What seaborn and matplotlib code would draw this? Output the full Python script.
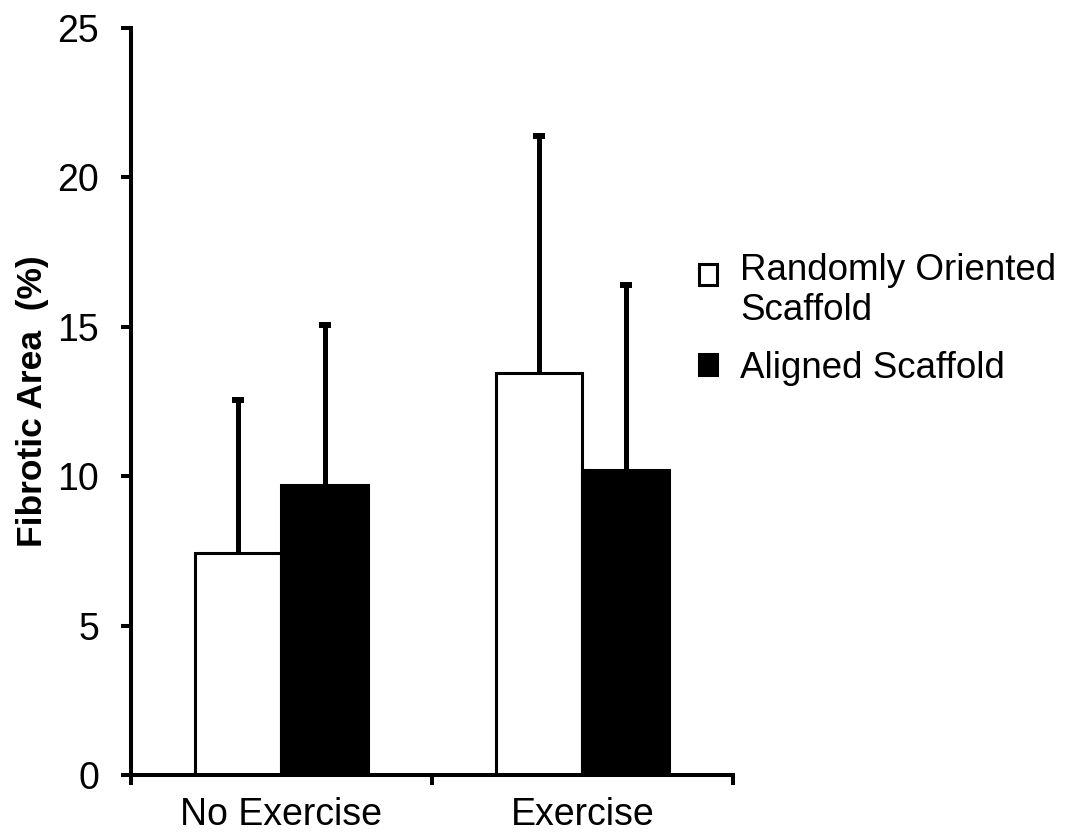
import numpy as np
import pandas as pd
import matplotlib
matplotlib.use("Agg")
import matplotlib.pyplot as plt
import seaborn as sns
from matplotlib.patches import Rectangle
from matplotlib.legend_handler import HandlerPatch

# Daten
groups = ["No Exercise", "Exercise"]
scaffolds = ["Randomly Oriented\nScaffold", "Aligned Scaffold"]
random_mean = [7.43, 13.45]
random_err = [5.12, 7.94]
aligned_mean = [9.72, 10.22]
aligned_err = [5.35, 6.18]

df = pd.DataFrame({
    "group": groups * 2,
    "scaffold": [scaffolds[0]] * 2 + [scaffolds[1]] * 2,
    "area": random_mean + aligned_mean,
})
errs = [random_err, aligned_err]

sns.set_style("white")
plt.rcParams["font.family"] = ["Liberation Sans", "DejaVu Sans"]
plt.rcParams["text.color"] = "black"
plt.rcParams["axes.labelcolor"] = "black"
plt.rcParams["xtick.color"] = "black"
plt.rcParams["ytick.color"] = "black"

fig = plt.figure(figsize=(10.71, 8.38), dpi=100)
ax = fig.add_axes([0.1223, 0.0752, 0.5621, 0.8914])

sns.barplot(data=df, x="group", y="area", hue="scaffold", order=groups, hue_order=scaffolds,
            palette={scaffolds[0]: "white", scaffolds[1]: "black"}, saturation=1,
            width=0.575, edgecolor="black", linewidth=2.2, errorbar=None, ax=ax)

# einseitige Fehlerbalken nach oben (untere Kappe entfernen)
for cont, e in zip(ax.containers, errs):
    xs = [b.get_x() + b.get_width() / 2 for b in cont]
    ys = [b.get_height() for b in cont]
    eb = ax.errorbar(xs, ys, yerr=[np.zeros(len(e)), e], fmt="none", ecolor="black",
                     elinewidth=3.6, capsize=4.3, capthick=4.3, zorder=3)
    eb[1][0].remove()

ax.set_ylim(0, 25)
ax.set_xlim(-0.5, 1.5)
ax.set_yticks(range(0, 26, 5))
ax.set_xticks([-0.5, 0.5, 1.5], minor=True)
ax.tick_params(axis="x", which="major", bottom=True, length=0, labelsize=27, pad=16)
ax.tick_params(axis="x", which="minor", bottom=True, length=7, width=2.9, direction="out")
ax.tick_params(axis="y", left=True, length=7, width=2.9, direction="out", labelsize=27, pad=16)
ax.set_xlabel("")
ax.set_ylabel("Fibrotic Area  (%)", fontsize=25.5, fontweight="bold", labelpad=6)

sns.despine(ax=ax)
for s in ["left", "bottom"]:
    ax.spines[s].set_linewidth(2.9)
    ax.spines[s].set_color("black")


# Legendensymbol auf Höhe der ersten Textzeile
def top_square(legend, orig_handle, xdescent, ydescent, width, height, fontsize):
    return Rectangle((-xdescent, -ydescent + 0.45 * fontsize), width, height)


ax.get_legend().remove()
handles = [cont[0] for cont in ax.containers]
fig.legend(handles, scaffolds, loc="upper left", bbox_to_anchor=(0.653, 0.698),
           frameon=False, fontsize=26.5, handlelength=0.48, handleheight=0.48,
           handletextpad=0.62, labelspacing=0.6, borderpad=0, borderaxespad=0,
           handler_map={handles[0]: HandlerPatch(patch_func=top_square)})

fig.savefig("out.png", dpi=100)
